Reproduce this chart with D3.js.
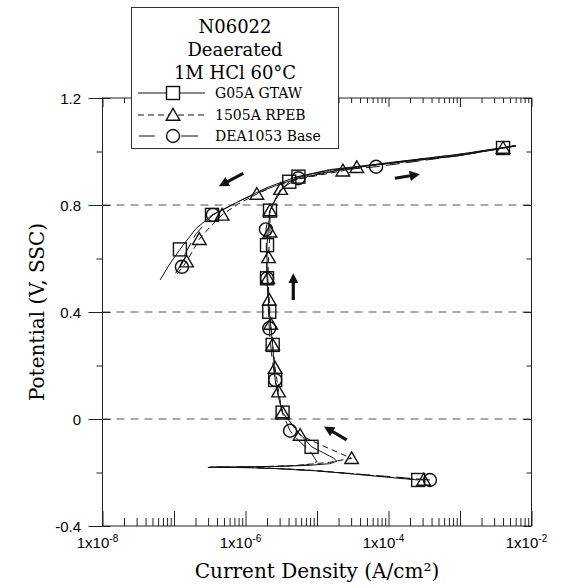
<!DOCTYPE html>
<html><head><meta charset="utf-8">
<script src="https://cdn.jsdelivr.net/npm/d3@7"></script>
<style>body{margin:0;background:#fff}</style>
</head><body><svg id="c" width="566" height="588"></svg>
<script>
// ---------- data ----------
const titleLines = ["N06022", "Deaerated", "1M HCl 60°C"];
const seriesNames = ["G05A GTAW", "1505A RPEB", "DEA1053 Base"];
const xTickVals = [1e-8, 1e-6, 1e-4, 1e-2];
const xTickExp = ["-8", "-6", "-4", "-2"];
const yTickVals = [-0.4, 0, 0.4, 0.8, 1.2];
const yTickLabels = ["-0.4", "0", "0.4", "0.8", "1.2"];
const yMinorVals = [-0.2, 0.2, 0.6, 1.0];
const gridVals = [0, 0.4, 0.8];

// [current density A/cm2, potential V]
const lineG05A = [[2.6e-4,-0.228],[1e-4,-0.218],[3e-5,-0.205],[1e-5,-0.194],[3e-6,-0.186],[1.2e-6,-0.182],[6e-7,-0.181],[3.2e-7,-0.180],[8e-7,-0.179],[3e-6,-0.177],[8e-6,-0.173],[1.5e-5,-0.167],[1.9e-5,-0.158],[1.7e-5,-0.146],[1.2e-5,-0.125],[8.4e-6,-0.104],[5.5e-6,-0.05],[3.9e-6,0.0],[3.3e-6,0.024],[2.9e-6,0.08],[2.6e-6,0.146],[2.4e-6,0.277],[2.15e-6,0.401],[2.0e-6,0.526],[2.0e-6,0.65],[2.1e-6,0.72],[2.2e-6,0.779],[2.8e-6,0.84],[4.1e-6,0.887],[5.5e-6,0.906],[1.5e-5,0.93],[1e-4,0.955],[1e-3,0.985],[4e-3,1.013],[6e-3,1.022],[1e-3,0.99],[1e-4,0.958],[1.5e-5,0.932],[5e-6,0.904],[2e-6,0.865],[9e-7,0.82],[5e-7,0.785],[3.4e-7,0.763],[2e-7,0.71],[1.21e-7,0.634],[8.5e-8,0.575],[6.4e-8,0.52]];
const line1505A = [[3.1e-4,-0.228],[1e-4,-0.217],[3e-5,-0.204],[1e-5,-0.193],[3e-6,-0.185],[1e-6,-0.181],[4e-7,-0.181],[2.8e-7,-0.181],[1e-6,-0.180],[5e-6,-0.174],[1.5e-5,-0.162],[3.05e-5,-0.147],[1.2e-5,-0.1],[5.8e-6,-0.06],[3.3e-6,0.024],[2.9e-6,0.102],[2.6e-6,0.19],[2.4e-6,0.277],[2.25e-6,0.355],[2.15e-6,0.445],[2.05e-6,0.526],[2.1e-6,0.604],[2.2e-6,0.70],[2.2e-6,0.779],[3.1e-6,0.859],[5e-6,0.895],[2.3e-5,0.928],[3.6e-5,0.941],[1e-4,0.955],[1e-3,0.985],[4e-3,1.013],[6e-3,1.022],[1e-3,0.988],[1e-4,0.957],[2e-5,0.93],[5e-6,0.895],[2.5e-6,0.87],[1.44e-6,0.841],[8e-7,0.805],[4.7e-7,0.763],[3e-7,0.71],[2.26e-7,0.672],[1.5e-7,0.588],[1.02e-7,0.53]];
const lineDEA1053 = [[3.8e-4,-0.228],[1e-4,-0.215],[3e-5,-0.204],[1e-5,-0.194],[3e-6,-0.186],[1.2e-6,-0.182],[6e-7,-0.181],[3.5e-7,-0.180],[1e-6,-0.179],[3e-6,-0.177],[7e-6,-0.172],[1e-5,-0.16],[8e-6,-0.12],[5.5e-6,-0.08],[4.2e-6,-0.044],[3.3e-6,0.02],[2.6e-6,0.146],[2.3e-6,0.25],[2.15e-6,0.339],[2.0e-6,0.526],[1.93e-6,0.709],[2.2e-6,0.78],[3.3e-6,0.865],[5.5e-6,0.90],[2e-5,0.93],[6.7e-5,0.943],[1e-3,0.985],[6e-3,1.02],[1e-3,0.99],[1e-4,0.957],[2e-5,0.932],[5.5e-6,0.902],[2e-6,0.86],[9e-7,0.82],[3.5e-7,0.763],[2e-7,0.69],[1.45e-7,0.62],[1.2e-7,0.569],[1e-7,0.535]];

const markG05A = [[4.0e-3,1.013],[5.5e-6,0.906],[4.1e-6,0.887],[2.2e-6,0.779],[3.4e-7,0.763],[1.21e-7,0.634],[2.0e-6,0.65],[2.0e-6,0.526],[2.15e-6,0.401],[2.4e-6,0.277],[2.6e-6,0.146],[3.3e-6,0.024],[8.4e-6,-0.104],[2.6e-4,-0.228]];
const mark1505A = [[4.0e-3,1.013],[3.6e-5,0.941],[2.3e-5,0.928],[3.1e-6,0.859],[1.44e-6,0.841],[2.2e-6,0.779],[4.7e-7,0.763],[2.26e-7,0.672],[1.5e-7,0.588],[2.2e-6,0.70],[2.1e-6,0.604],[2.05e-6,0.526],[2.15e-6,0.445],[2.25e-6,0.355],[2.4e-6,0.277],[2.6e-6,0.19],[2.9e-6,0.102],[3.3e-6,0.024],[5.8e-6,-0.06],[3.05e-5,-0.147],[3.1e-4,-0.228]];
const markDEA1053 = [[6.7e-5,0.943],[5.5e-6,0.90],[3.5e-7,0.763],[1.29e-7,0.569],[1.93e-6,0.709],[2.0e-6,0.526],[2.15e-6,0.339],[2.6e-6,0.146],[4.2e-6,-0.044],[3.8e-4,-0.228]];

// scan-direction arrows [from, to]
const arrows = [
  [[9.3e-7,0.918],[4.9e-7,0.879]],
  [[1.23e-4,0.900],[2.34e-4,0.912]],
  [[4.66e-6,0.445],[4.66e-6,0.526]],
  [[2.6e-5,-0.078],[1.44e-5,-0.038]]
];

// ---------- drawing ----------
const svg = d3.select("#c");
const L = 102.5, R = 531.5, T = 98, B = 526;
const x = d3.scaleLog().domain([1e-8, 1e-2]).range([L, R]);
const y = d3.scaleLinear().domain([-0.4, 1.2]).range([B, T]);
const serif = "'DejaVu Serif', serif";
const sans = "'Liberation Sans', Arial, sans-serif";

// grid
svg.append("g").selectAll("line").data(gridVals).join("line")
  .attr("x1", L).attr("x2", R).attr("y1", d => y(d)).attr("y2", d => y(d))
  .attr("stroke", "#555").attr("stroke-width", 1).attr("stroke-dasharray", "8,6");

// minor x ticks
const xMinor = [];
for (let d = -8; d < -2; d++) for (let k = 2; k <= 9; k++) xMinor.push(k * Math.pow(10, d));
const xMajorAll = d3.range(-8, -1).map(e => Math.pow(10, e));

function styleAxis(g) {
  g.select(".domain").remove();
  g.selectAll("line").attr("stroke", "#222").attr("stroke-width", 1);
  g.selectAll("text").remove();
}
// bottom
svg.append("g").attr("transform", `translate(0,${B})`)
  .call(d3.axisBottom(x).tickValues(xMinor).tickSize(-8)).call(styleAxis);
svg.append("g").attr("transform", `translate(0,${B})`)
  .call(d3.axisBottom(x).tickValues(xMajorAll).tickSize(-15)).call(styleAxis);
// top
svg.append("g").attr("transform", `translate(0,${T})`)
  .call(d3.axisTop(x).tickValues(xMinor).tickSize(-5)).call(styleAxis);
svg.append("g").attr("transform", `translate(0,${T})`)
  .call(d3.axisTop(x).tickValues(xMajorAll).tickSize(-9)).call(styleAxis);
// left
svg.append("g").attr("transform", `translate(${L},0)`)
  .call(d3.axisLeft(y).tickValues(yMinorVals).tickSize(6)).call(styleAxis);
svg.append("g").attr("transform", `translate(${L},0)`)
  .call(d3.axisLeft(y).tickValues(yTickVals).tickSize(14)).call(styleAxis);
svg.append("g").attr("transform", `translate(${L},0)`)
  .call(d3.axisLeft(y).tickValues(yTickVals).tickSize(-8)).call(styleAxis);
// right
svg.append("g").attr("transform", `translate(${R},0)`)
  .call(d3.axisRight(y).tickValues(yMinorVals).tickSize(-5)).call(styleAxis);
svg.append("g").attr("transform", `translate(${R},0)`)
  .call(d3.axisRight(y).tickValues(yTickVals).tickSize(-8)).call(styleAxis);

// frame
svg.append("rect").attr("x", L).attr("y", T).attr("width", R - L).attr("height", B - T)
  .attr("fill", "none").attr("stroke", "#222").attr("stroke-width", 1);

// y tick labels
svg.append("g").selectAll("text").data(yTickVals).join("text")
  .attr("x", 81).attr("y", d => y(d) + 5.5).attr("text-anchor", "end")
  .attr("font-family", sans).attr("font-size", 15).text((d, i) => yTickLabels[i]);

// x tick labels
const xl = svg.append("g").selectAll("text").data(xTickVals).join("text")
  .attr("x", d => x(d) - 5).attr("y", 548).attr("text-anchor", "middle")
  .attr("font-family", sans).attr("font-size", 15);
xl.append("tspan").text("1x10");
xl.append("tspan").attr("dy", -6).attr("font-size", 10).text((d, i) => xTickExp[i]);

// axis titles
svg.append("text").attr("x", (L + R) / 2).attr("y", 578).attr("text-anchor", "middle")
  .attr("font-family", serif).attr("font-size", 20).text("Current Density (A/cm²)");
svg.append("text").attr("transform", `translate(44,${(T + B) / 2}) rotate(-90)`)
  .attr("text-anchor", "middle").attr("font-family", serif).attr("font-size", 20)
  .text("Potential (V, SSC)");

// lines
const lineGen = d3.line().x(d => x(d[0])).y(d => y(d[1]));
const series = [
  {line: lineG05A, marks: markG05A, dash: null, shape: "square"},
  {line: line1505A, marks: mark1505A, dash: "6,4", shape: "triangle"},
  {line: lineDEA1053, marks: markDEA1053, dash: "14,6", shape: "circle"}
];
series.forEach(s => {
  svg.append("path").datum(s.line).attr("d", lineGen).attr("fill", "none")
    .attr("stroke", "#111").attr("stroke-width", 1)
    .attr("stroke-dasharray", s.dash);
});

function drawMarker(g, shape, cx, cy, fill) {
  if (shape === "square") {
    g.append("rect").attr("x", cx - 6.5).attr("y", cy - 6.5).attr("width", 13).attr("height", 13)
      .attr("fill", fill).attr("stroke", "#111").attr("stroke-width", 1.4);
  } else if (shape === "triangle") {
    g.append("path").attr("d", `M${cx - 6.8},${cy + 5.2}L${cx + 6.8},${cy + 5.2}L${cx},${cy - 6.5}Z`)
      .attr("fill", fill).attr("stroke", "#111").attr("stroke-width", 1.4);
  } else {
    g.append("circle").attr("cx", cx).attr("cy", cy).attr("r", 6.5)
      .attr("fill", fill).attr("stroke", "#111").attr("stroke-width", 1.4);
  }
}
const mg = svg.append("g");
series.forEach(s => s.marks.forEach(d => drawMarker(mg, s.shape, x(d[0]), y(d[1]), "none")));

// arrows
const defs = svg.append("defs");
defs.append("marker").attr("id", "ah").attr("viewBox", "0 0 10 10").attr("refX", 5).attr("refY", 5)
  .attr("markerWidth", 3.2).attr("markerHeight", 3.2).attr("orient", "auto")
  .append("path").attr("d", "M0,0L10,5L0,10Z").attr("fill", "#111");
svg.append("g").selectAll("line").data(arrows).join("line")
  .attr("x1", d => x(d[0][0])).attr("y1", d => y(d[0][1]))
  .attr("x2", d => x(d[1][0])).attr("y2", d => y(d[1][1]))
  .attr("stroke", "#111").attr("stroke-width", 3.2).attr("marker-end", "url(#ah)");

// legend
const lg = svg.append("g");
lg.append("rect").attr("x", 131.5).attr("y", 7.5).attr("width", 207).attr("height", 141)
  .attr("fill", "#fff").attr("stroke", "#333").attr("stroke-width", 1);
lg.selectAll("text.t").data(titleLines).join("text").attr("class", "t")
  .attr("x", 235).attr("y", (d, i) => 33 + i * 23).attr("text-anchor", "middle")
  .attr("font-family", serif).attr("font-size", 18).text(d => d);
const rowsY = [93, 115, 136];
series.forEach((s, i) => {
  const yy = rowsY[i];
  if (s.shape === "circle") {
    lg.append("line").attr("x1", 139).attr("x2", 155).attr("y1", yy).attr("y2", yy).attr("stroke", "#111");
    lg.append("line").attr("x1", 181).attr("x2", 198).attr("y1", yy).attr("y2", yy).attr("stroke", "#111");
  } else {
    lg.append("line").attr("x1", 138).attr("x2", 205).attr("y1", yy).attr("y2", yy)
      .attr("stroke", "#111").attr("stroke-dasharray", s.dash);
  }
  drawMarker(lg, s.shape, 173, yy, "#fff");
  lg.append("text").attr("x", 215).attr("y", yy + 5).attr("font-family", serif)
    .attr("font-size", 14).text(seriesNames[i]);
});
</script></body></html>
